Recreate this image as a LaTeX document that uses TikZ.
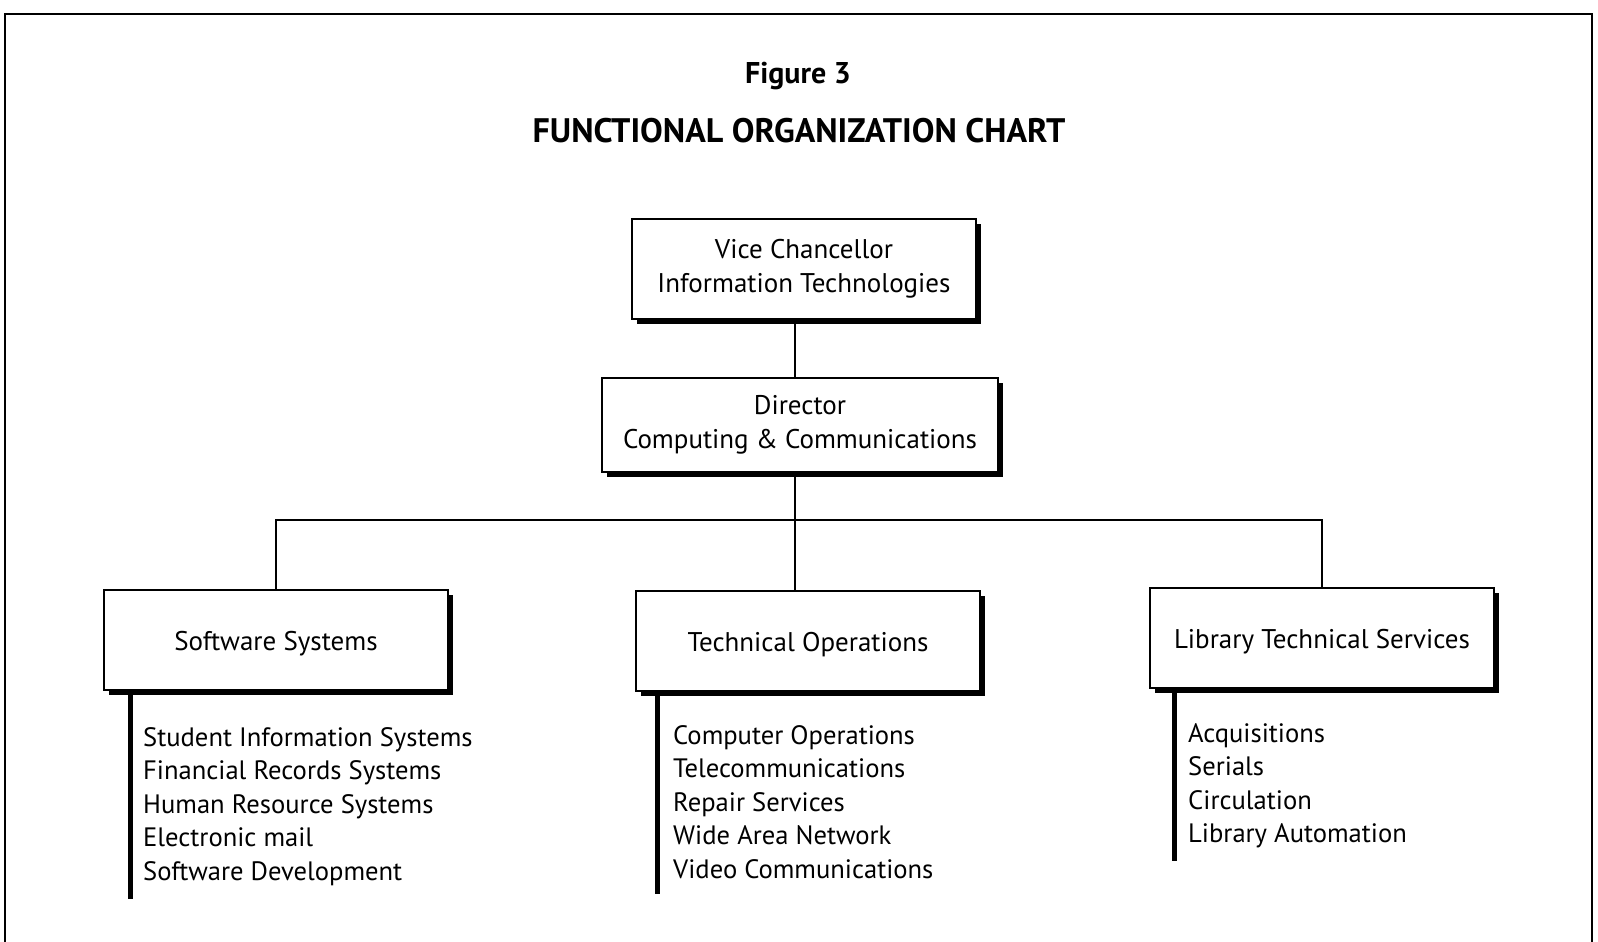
\documentclass[tikz,border=0pt]{standalone}
\usepackage{fontspec}
\setmainfont{PT Sans}
\usetikzlibrary{shadows}

\begin{document}
\begin{tikzpicture}[x=1pt, y=-1pt,
    unit/.style={draw, line width=1.2pt, fill=white, align=center,
        font=\fontsize{27}{34}\selectfont,
        drop shadow={shadow xshift=5pt, shadow yshift=-5pt, opacity=1, fill=black}},
    branch/.style={unit, minimum width=344pt, minimum height=100pt, text height=27pt, text depth=6pt},
    duties/.style={anchor=north west, align=left, inner sep=0pt,
        font=\fontsize{26.6}{33.6}\selectfont},
    bar/.style={line width=5pt},
    link/.style={line width=1.2pt}]
    \useasboundingbox (0,0) rectangle (1598,942);
    \draw[line width=2pt] (5,942) -- (5,14) -- (1592,14) -- (1592,942);
    \node[font=\bfseries\fontsize{30}{34}\selectfont] (fig) at (798,76) {Figure 3};
    \node[font=\bfseries\fontsize{34}{38}\selectfont] (title) at (799,131) {FUNCTIONAL ORGANIZATION CHART};
    \node[unit, minimum width=344pt, minimum height=100pt] (vc) at (804,269) {Vice Chancellor\\Information Technologies};
    \node[unit, minimum width=396pt, minimum height=94pt] (dir) at (800,425) {Director\\Computing \& Communications};
    \node[branch] (sw) at (276,640) {Software Systems};
    \node[branch] (tech) at (808,641) {Technical Operations};
    \node[branch] (lib) at (1322,638) {Library Technical Services};
    \coordinate (bus) at (795,520);
    \draw[link] (vc.south -| bus) -- (dir.north -| bus);
    \draw[link] (dir.south -| bus) -- (tech.north -| bus);
    \draw[link] (sw.north) |- (bus) -| (lib.north);
    \coordinate (swend) at (130,899);
    \coordinate (techend) at (657,894);
    \coordinate (libend) at (1174,861);
    \draw[bar] (sw.south -| swend) -- (swend);
    \draw[bar] (tech.south -| techend) -- (techend);
    \draw[bar] (lib.south -| libend) -- (libend);
    \node[duties] (swlist) at (143,727) {Student Information Systems\\Financial Records Systems\\Human Resource Systems\\Electronic mail\\Software Development};
    \node[duties] (techlist) at (673,725) {Computer Operations\\Telecommunications\\Repair Services\\Wide Area Network\\Video Communications};
    \node[duties] (liblist) at (1188,723) {Acquisitions\\Serials\\Circulation\\Library Automation};
\end{tikzpicture}
\end{document}
